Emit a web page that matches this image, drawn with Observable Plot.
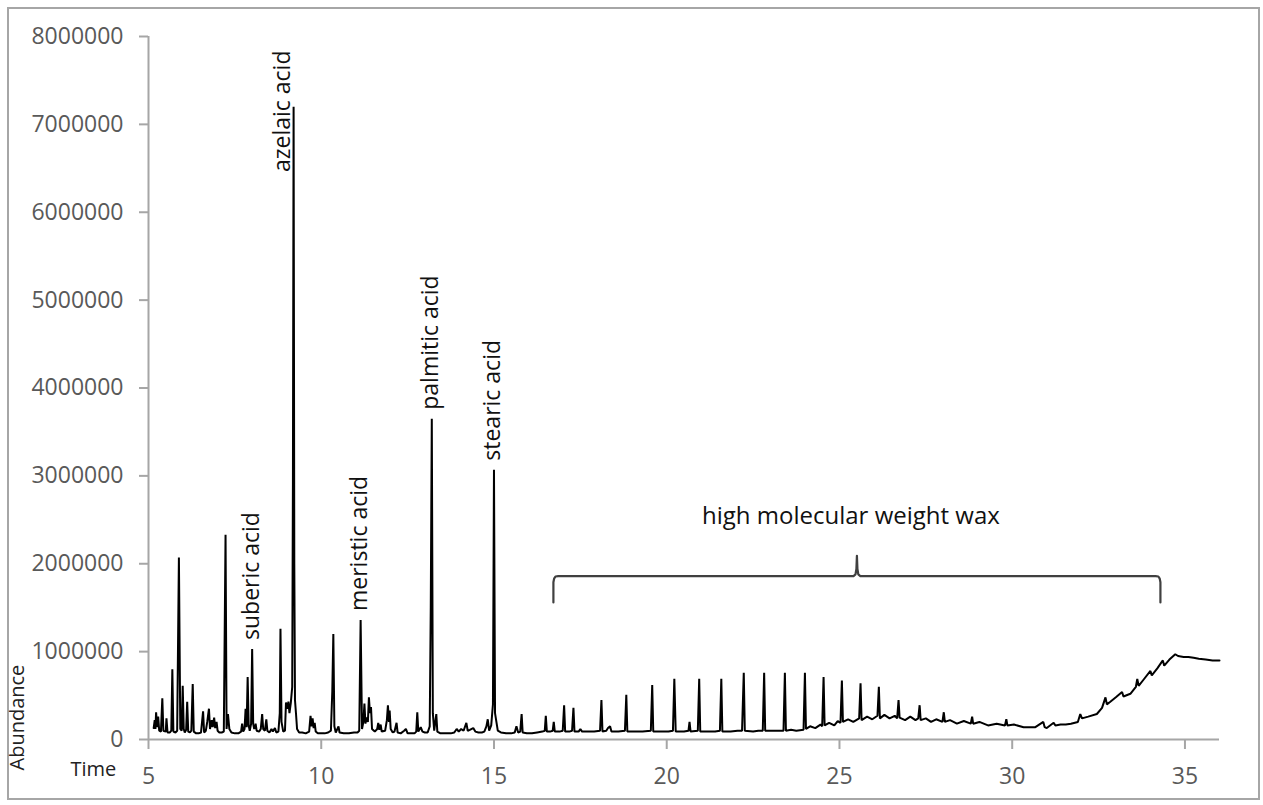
<!DOCTYPE html>
<html>
<head>
<meta charset="utf-8">
<script src="https://cdn.jsdelivr.net/npm/d3@7"></script>
<script src="https://cdn.jsdelivr.net/npm/@observablehq/plot@0.6"></script>
<style>
  html, body { margin: 0; padding: 0; background: #fff; }
  #frame { position: absolute; left: 7px; top: 7px; width: 1249px; height: 789px; border: 2px solid #a6a6a6; }
  #chart { position: absolute; left: 0; top: 0; }
</style>
</head>
<body>
<div id="frame"></div>
<div id="chart"></div>
<script>
// Retention time (min)
const time = [
  5.15, 5.18, 5.20, 5.22, 5.25, 5.28, 5.31, 5.36, 5.40, 5.43,
  5.50, 5.52, 5.55, 5.62, 5.66, 5.69, 5.72, 5.78, 5.83, 5.88,
  5.92, 5.96, 5.99, 6.02, 6.05, 6.09, 6.12, 6.15, 6.20, 6.24,
  6.28, 6.31, 6.38, 6.45, 6.52, 6.58, 6.61, 6.66, 6.70, 6.75,
  6.78, 6.83, 6.86, 6.90, 6.93, 6.97, 7.00, 7.05, 7.12, 7.18,
  7.23, 7.26, 7.30, 7.34, 7.40, 7.50, 7.60, 7.68, 7.71, 7.74,
  7.78, 7.81, 7.84, 7.87, 7.90, 7.93, 7.97, 8.00, 8.03, 8.06,
  8.10, 8.13, 8.20, 8.25, 8.29, 8.32, 8.37, 8.41, 8.44, 8.50,
  8.56, 8.60, 8.66, 8.70, 8.76, 8.80, 8.82, 8.85, 8.90, 8.95,
  8.98, 9.02, 9.05, 9.08, 9.12, 9.16, 9.18, 9.20, 9.22, 9.24,
  9.27, 9.30, 9.36, 9.45, 9.55, 9.65, 9.69, 9.72, 9.75, 9.78,
  9.81, 9.84, 9.90, 10.00, 10.10, 10.20, 10.28, 10.32, 10.35, 10.38,
  10.42, 10.50, 10.53, 10.65, 10.80, 10.95, 11.05, 11.10, 11.14, 11.18,
  11.22, 11.25, 11.28, 11.31, 11.35, 11.38, 11.41, 11.44, 11.47, 11.55,
  11.62, 11.65, 11.68, 11.72, 11.75, 11.85, 11.90, 11.93, 11.96, 11.98,
  12.01, 12.07, 12.12, 12.18, 12.21, 12.30, 12.40, 12.45, 12.50, 12.60,
  12.70, 12.75, 12.78, 12.81, 12.88, 12.93, 13.00, 13.08, 13.14, 13.17,
  13.20, 13.23, 13.27, 13.33, 13.36, 13.45, 13.60, 13.75, 13.85, 13.92,
  13.98, 14.05, 14.12, 14.20, 14.24, 14.30, 14.40, 14.46, 14.55, 14.65,
  14.72, 14.78, 14.82, 14.86, 14.92, 14.97, 15.00, 15.03, 15.07, 15.11,
  15.20, 15.35, 15.50, 15.60, 15.65, 15.70, 15.76, 15.80, 15.83, 15.95,
  16.10, 16.25, 16.40, 16.47, 16.50, 16.53, 16.62, 16.70, 16.73, 16.76,
  16.90, 16.99, 17.03, 17.06, 17.18, 17.26, 17.30, 17.33, 17.45, 17.50,
  17.55, 17.75, 17.90, 18.07, 18.11, 18.14, 18.25, 18.30, 18.36, 18.40,
  18.60, 18.79, 18.83, 18.86, 19.10, 19.30, 19.54, 19.58, 19.61, 19.85,
  20.05, 20.18, 20.22, 20.26, 20.50, 20.63, 20.66, 20.69, 20.90, 20.94,
  20.97, 21.20, 21.40, 21.54, 21.58, 21.61, 21.85, 22.05, 22.18, 22.23,
  22.26, 22.50, 22.65, 22.78, 22.82, 22.85, 23.05, 23.20, 23.38, 23.42,
  23.45, 23.60, 23.75, 23.96, 24.00, 24.03, 24.15, 24.30, 24.45, 24.50,
  24.54, 24.57, 24.70, 24.85, 24.95, 25.03, 25.07, 25.10, 25.25, 25.40,
  25.57, 25.61, 25.64, 25.80, 25.95, 26.10, 26.14, 26.17, 26.30, 26.45,
  26.60, 26.67, 26.71, 26.74, 26.90, 27.05, 27.20, 27.28, 27.32, 27.35,
  27.50, 27.65, 27.80, 27.98, 28.02, 28.05, 28.20, 28.40, 28.60, 28.80,
  28.84, 28.87, 29.05, 29.30, 29.55, 29.79, 29.83, 29.86, 30.05, 30.33,
  30.60, 30.67, 30.90, 30.94, 31.00, 31.20, 31.25, 31.40, 31.55, 31.70,
  31.90, 31.97, 32.02, 32.20, 32.45, 32.60, 32.70, 32.74, 32.84, 33.00,
  33.18, 33.22, 33.42, 33.58, 33.62, 33.66, 33.80, 34.00, 34.04, 34.20,
  34.36, 34.40, 34.55, 34.72, 34.80, 34.96, 35.10, 35.25, 35.40, 35.60,
  35.80, 36.00
];

// Abundance, in millions
const abundanceM = [
  0.13, 0.22, 0.12, 0.31, 0.14, 0.26, 0.10, 0.09, 0.47, 0.10,
  0.09, 0.24, 0.08, 0.08, 0.10, 0.80, 0.09, 0.08, 0.10, 2.07,
  0.12, 0.10, 0.61, 0.12, 0.08, 0.11, 0.43, 0.09, 0.08, 0.10,
  0.63, 0.09, 0.07, 0.07, 0.08, 0.32, 0.08, 0.10, 0.20, 0.35,
  0.12, 0.22, 0.14, 0.25, 0.13, 0.20, 0.10, 0.08, 0.08, 0.09,
  2.33, 0.12, 0.29, 0.12, 0.08, 0.07, 0.07, 0.09, 0.18, 0.09,
  0.12, 0.35, 0.14, 0.71, 0.16, 0.10, 0.18, 1.03, 0.18, 0.12,
  0.18, 0.10, 0.09, 0.12, 0.29, 0.12, 0.10, 0.23, 0.10, 0.08,
  0.12, 0.09, 0.13, 0.08, 0.09, 0.30, 1.26, 0.20, 0.09, 0.10,
  0.42, 0.35, 0.43, 0.30, 0.42, 0.60, 2.90, 7.20, 2.00, 0.45,
  0.29, 0.12, 0.08, 0.08, 0.07, 0.09, 0.27, 0.15, 0.24, 0.13,
  0.19, 0.09, 0.07, 0.07, 0.07, 0.08, 0.10, 0.55, 1.20, 0.15,
  0.08, 0.15, 0.08, 0.07, 0.07, 0.08, 0.08, 0.10, 1.36, 0.12,
  0.20, 0.41, 0.18, 0.25, 0.20, 0.48, 0.30, 0.37, 0.12, 0.09,
  0.12, 0.19, 0.11, 0.17, 0.09, 0.10, 0.22, 0.39, 0.20, 0.33,
  0.12, 0.08, 0.09, 0.19, 0.08, 0.07, 0.10, 0.12, 0.07, 0.07,
  0.07, 0.09, 0.31, 0.09, 0.14, 0.09, 0.08, 0.08, 0.15, 1.50,
  3.65, 0.30, 0.10, 0.29, 0.09, 0.07, 0.07, 0.07, 0.08, 0.12,
  0.09, 0.12, 0.10, 0.19, 0.10, 0.11, 0.13, 0.09, 0.08, 0.08,
  0.09, 0.15, 0.23, 0.10, 0.16, 0.40, 3.07, 0.30, 0.20, 0.10,
  0.08, 0.07, 0.07, 0.08, 0.15, 0.08, 0.09, 0.29, 0.08, 0.07,
  0.07, 0.08, 0.09, 0.10, 0.27, 0.09, 0.09, 0.10, 0.20, 0.09,
  0.09, 0.10, 0.39, 0.09, 0.09, 0.10, 0.36, 0.09, 0.09, 0.12,
  0.09, 0.09, 0.09, 0.10, 0.45, 0.09, 0.10, 0.13, 0.15, 0.09,
  0.09, 0.10, 0.51, 0.09, 0.09, 0.09, 0.10, 0.62, 0.09, 0.09,
  0.09, 0.10, 0.69, 0.09, 0.09, 0.10, 0.20, 0.09, 0.10, 0.69,
  0.09, 0.09, 0.09, 0.10, 0.69, 0.09, 0.09, 0.10, 0.10, 0.76,
  0.10, 0.09, 0.10, 0.10, 0.76, 0.10, 0.10, 0.10, 0.10, 0.76,
  0.10, 0.11, 0.10, 0.11, 0.76, 0.12, 0.15, 0.13, 0.17, 0.15,
  0.71, 0.16, 0.19, 0.16, 0.21, 0.19, 0.67, 0.20, 0.23, 0.20,
  0.24, 0.64, 0.22, 0.26, 0.23, 0.27, 0.60, 0.24, 0.28, 0.24,
  0.27, 0.24, 0.45, 0.25, 0.22, 0.26, 0.22, 0.24, 0.39, 0.22,
  0.24, 0.20, 0.23, 0.20, 0.31, 0.20, 0.22, 0.18, 0.21, 0.18,
  0.26, 0.18, 0.20, 0.16, 0.18, 0.16, 0.23, 0.16, 0.17, 0.14,
  0.14, 0.14, 0.20, 0.14, 0.13, 0.19, 0.16, 0.17, 0.17, 0.18,
  0.20, 0.29, 0.24, 0.26, 0.29, 0.36, 0.48, 0.40, 0.43, 0.48,
  0.54, 0.49, 0.52, 0.60, 0.69, 0.61, 0.68, 0.78, 0.73, 0.81,
  0.90, 0.84, 0.91, 0.97, 0.95, 0.94, 0.94, 0.93, 0.92, 0.91,
  0.90, 0.90
];

// Labelled peaks
const peakNames = ["suberic acid", "azelaic acid", "meristic acid", "palmitic acid", "stearic acid"];
const peakTimes = [8.00, 9.20, 11.14, 13.20, 15.00];
const peakHeightsM = [1.03, 7.20, 1.36, 3.65, 3.07];

// Wax region bracket
const waxLabel = "high molecular weight wax";
const waxRange = [16.72, 34.29];
const waxBracketLevelM = 1.86;

// Axis ticks
const xTicks = [5, 10, 15, 20, 25, 30, 35];
const yTicks = [0, 1000000, 2000000, 3000000, 4000000, 5000000, 6000000, 7000000, 8000000];

const M = 1e6;
const trace = time.map((t, i) => ({time: t, abundance: abundanceM[i] * M}));
const peaks = peakNames.map((name, i) => ({name, time: peakTimes[i], abundance: peakHeightsM[i] * M}));

// bracket shape built from the wax range
const [bx0, bx1] = waxRange;
const bmid = (bx0 + bx1) / 2;
const lvl = waxBracketLevelM;
const bracket = [
  [bx0, lvl - 0.30], [bx0, lvl - 0.07], [bx0 + 0.02, lvl - 0.03], [bx0 + 0.06, lvl - 0.005], [bx0 + 0.14, lvl],
  [bmid - 0.10, lvl], [bmid - 0.04, lvl + 0.02], [bmid - 0.015, lvl + 0.08], [bmid, lvl + 0.23],
  [bmid + 0.015, lvl + 0.08], [bmid + 0.04, lvl + 0.02], [bmid + 0.10, lvl],
  [bx1 - 0.14, lvl], [bx1 - 0.06, lvl - 0.005], [bx1 - 0.02, lvl - 0.03], [bx1, lvl - 0.07], [bx1, lvl - 0.30]
].map(([x, y]) => ({x, y: y * M}));

const plot = Plot.plot({
  width: 1263,
  height: 805,
  marginLeft: 148,
  marginRight: 44,
  marginTop: 36,
  marginBottom: 66,
  style: {fontFamily: "'Open Sans', sans-serif", fontSize: "23px", background: "transparent", overflow: "visible"},
  x: {domain: [5, 36], label: null},
  y: {domain: [0, 8000000], label: null},
  marks: [
    Plot.axisX({ticks: xTicks, tickSize: 10, tickPadding: 18, tickFormat: d => String(d),
      stroke: "#a6a6a6", strokeWidth: 2, fill: "#595959", label: null}),
    Plot.axisY({ticks: yTicks, tickSize: 9, tickPadding: 16, tickFormat: d => String(d),
      stroke: "#a6a6a6", strokeWidth: 2, fill: "#595959", label: null}),
    Plot.ruleX([5], {stroke: "#a6a6a6", strokeWidth: 2}),
    Plot.ruleY([0], {stroke: "#a6a6a6", strokeWidth: 2}),
    Plot.line(trace, {x: "time", y: "abundance", stroke: "#000", strokeWidth: 2, strokeLinejoin: "miter"}),
    // labels above the peaks
    Plot.text(peaks.filter(d => d.abundance < 5e6), {x: "time", y: "abundance", text: "name", rotate: -90,
      textAnchor: "start", dy: -9, dx: -1, fontSize: 23, fill: "#111"}),
    // tallest peak: label placed beside the line, hanging from the top of the frame
    Plot.text(peaks.filter(d => d.abundance >= 5e6), {x: "time", y: () => 8000000, text: "name", rotate: -90,
      textAnchor: "end", lineAnchor: "bottom", dy: 14, dx: -4, fontSize: 23, fill: "#111"}),
    // wax bracket
    Plot.line(bracket, {x: "x", y: "y", stroke: "#404040", strokeWidth: 2.2}),
    Plot.text([waxLabel], {x: bmid, y: (lvl + 0.23) * M, dy: -40, dx: -6, fontSize: 24, fill: "#111"}),
    // axis titles
    Plot.text(["Abundance"], {frameAnchor: "bottom-left", dx: -125, dy: 31, rotate: -90, textAnchor: "start",
      fontSize: 20, fill: "#222"}),
    Plot.text(["Time"], {frameAnchor: "bottom-left", dx: -78, dy: 36, fontSize: 20, fill: "#222"})
  ]
});
document.getElementById("chart").appendChild(plot);
</script>
</body>
</html>
